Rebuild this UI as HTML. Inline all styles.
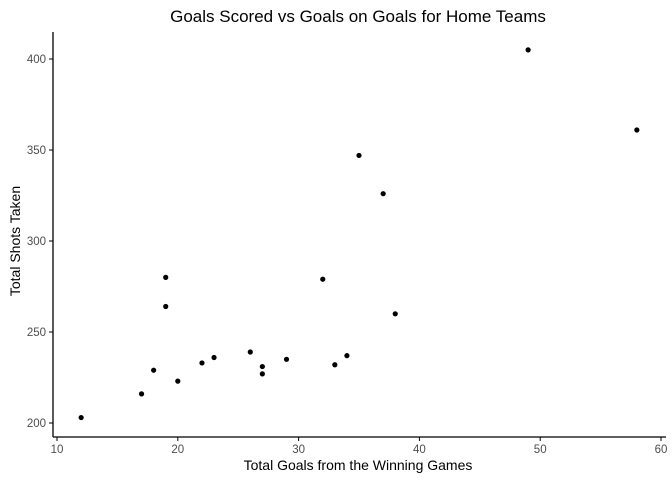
<!DOCTYPE html>
<html><head><meta charset="utf-8"><style>
body{margin:0;background:#fff;font-family:"Liberation Sans",sans-serif}
</style></head><body>
<svg width="672" height="480" xmlns="http://www.w3.org/2000/svg">
<text x="358" y="22" text-anchor="middle" font-size="17" fill="#000">Goals Scored vs Goals on Goals for Home Teams</text>
<g id="axes"></g>
<g id="pts"></g>
<text x="358" y="470" text-anchor="middle" font-size="14" fill="#000">Total Goals from the Winning Games</text>
<text transform="translate(20,241) rotate(-90)" text-anchor="middle" font-size="14" fill="#000">Total Shots Taken</text>
</svg>
<script>
const goals=[12,17,18,19,19,20,22,23,26,27,27,29,32,33,34,35,37,38,49,58];
const shots=[203,216,229,280,264,223,233,236,239,231,227,235,279,232,237,347,326,260,405,361];
const xTicks=[10,20,30,40,50,60];
const yTicks=[200,250,300,350,400];
const NS="http://www.w3.org/2000/svg";
const xs=v=>57+(v-10)*12.08;
const ys=v=>423-(v-200)*1.82;
function mk(t,a,p){const e=document.createElementNS(NS,t);for(const k in a)e.setAttribute(k,a[k]);p.appendChild(e);return e;}
const ax=document.getElementById('axes');
const yl=mk('line',{x1:53,y1:32,x2:53,y2:437,stroke:'#000','stroke-width':1.3},ax);


const xl=mk('line',{x1:53,y1:437,x2:666,y2:437,stroke:'#000','stroke-width':1.3},ax);


xTicks.forEach(t=>{
 mk('line',{x1:xs(t),y1:437,x2:xs(t),y2:441,stroke:'#000'},ax);
 const tx=mk('text',{x:xs(t),y:453,'text-anchor':'middle','font-size':11.5,fill:'#4d4d4d'},ax);
 tx.textContent=t;
 
 
});
yTicks.forEach(t=>{
 mk('line',{x1:49,y1:ys(t),x2:53,y2:ys(t),stroke:'#000'},ax);
 const tx=mk('text',{x:46,y:ys(t)+4,'text-anchor':'end','font-size':11.5,fill:'#4d4d4d'},ax);
 tx.textContent=t;
 
 
});
const pg=document.getElementById('pts');
goals.forEach((g,i)=>{
 const c=mk('circle',{cx:xs(g),cy:ys(shots[i]),r:2.6,fill:'#000'},pg);
 
 
});
</script>
</body></html>
